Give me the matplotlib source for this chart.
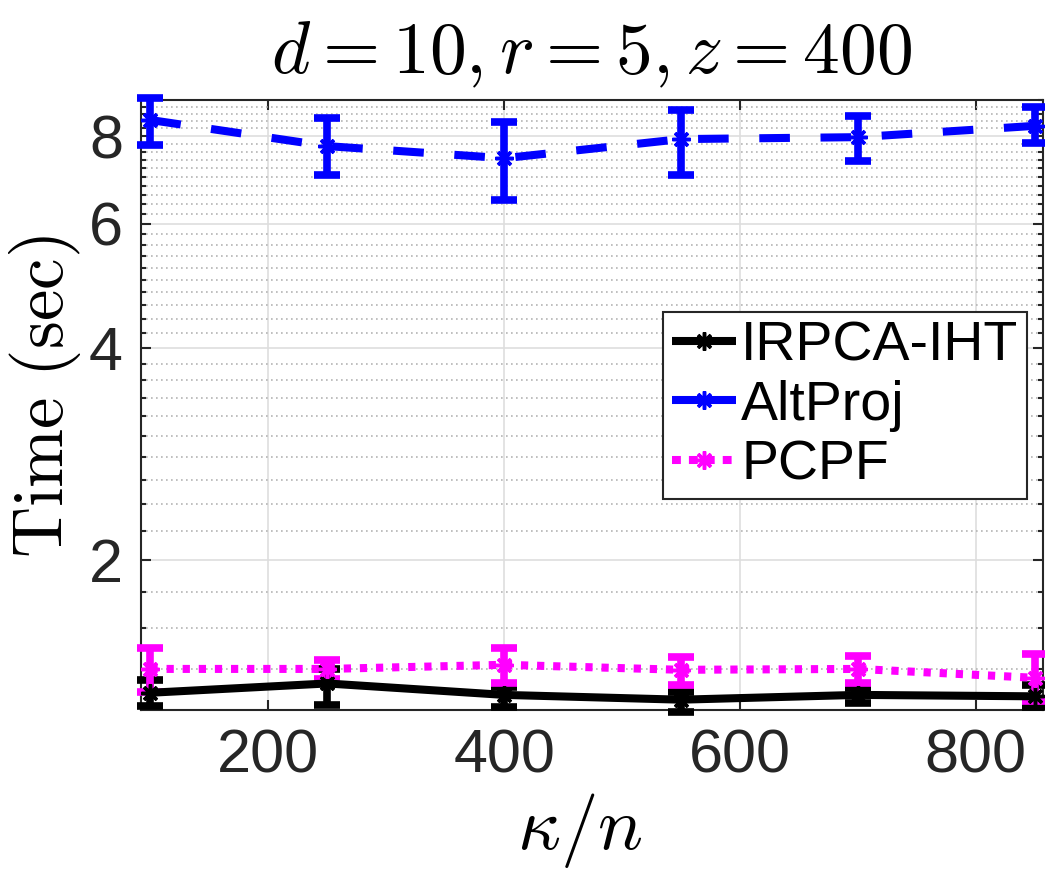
import matplotlib
matplotlib.use("Agg")
import matplotlib.pyplot as plt
from matplotlib.ticker import FixedLocator, NullFormatter, FixedFormatter
from matplotlib.lines import Line2D
import numpy as np

# ---- data ----
x = [100, 250, 400, 550, 700, 850]

irpca_mean = [1.295, 1.335, 1.286, 1.266, 1.286, 1.280]
irpca_lo   = [1.240, 1.245, 1.237, 1.217, 1.253, 1.236]
irpca_hi   = [1.351, 1.400, 1.320, 1.299, 1.316, 1.330]

altproj_mean = [8.43, 7.74, 7.44, 7.92, 7.97, 8.27]
altproj_lo   = [7.77, 7.04, 6.49, 7.04, 7.37, 7.82]
altproj_hi   = [9.06, 8.48, 8.37, 8.71, 8.54, 8.79]

pcpf_mean = [1.400, 1.400, 1.419, 1.396, 1.400, 1.360]
pcpf_lo   = [1.300, 1.356, 1.338, 1.330, 1.335, 1.260]
pcpf_hi   = [1.500, 1.442, 1.500, 1.456, 1.460, 1.470]

labels = ["IRPCA-IHT", "AltProj", "PCPF"]
xticks = [200, 400, 600, 800]
yticks = [2, 4, 6, 8]
title = r"$d = 10, r = 5, z = 400$"
xlabel = r"$\kappa/n$"
ylabel = r"$\mathrm{Time\ (sec)}$"

plt.rcParams['mathtext.fontset'] = 'cm'
plt.rcParams['font.family'] = ['Liberation Sans', 'DejaVu Sans']

fig = plt.figure(figsize=(10.45, 8.76), dpi=100)
ax = fig.add_axes([141/1045, 1-710/876, (1043-141)/1045, (710-100)/876])

series = [
    (irpca_mean, irpca_lo, irpca_hi, 'black', '-', None),
    (altproj_mean, altproj_lo, altproj_hi, '#0000ff', '--', (3.8, 3.8)),
    (pcpf_mean, pcpf_lo, pcpf_hi, '#ff00ff', ':', (0.9, 1.1)),
]
handles = []
for (m, lo, hi, c, ls, dash), lab in zip(series, labels):
    m = np.array(m); lo = np.array(lo); hi = np.array(hi)
    eb = ax.errorbar(x, m, yerr=[m - lo, hi - m], color=c, ecolor=c,
                     elinewidth=5.5, capsize=9.5, capthick=5.5,
                     linestyle='none', clip_on=False, zorder=3)
    for a in eb.lines[1]:
        a.set_clip_on(False)
    for a in eb.lines[2]:
        a.set_clip_on(False)
    line, = ax.plot(x, m, color=c, linestyle=ls, linewidth=5.8,
                    marker=(8, 2, 0), markersize=13, markeredgewidth=2.5,
                    markeredgecolor=c, clip_on=False, zorder=4,
                    solid_capstyle='butt', dash_capstyle='butt')
    if dash is not None:
        line.set_dashes(dash)
    # legend proxy
    h = Line2D([], [], color=c, linewidth=5.8, marker=(8, 2, 0), markersize=13,
               markeredgewidth=2.5, markeredgecolor=c, label=lab,
               solid_capstyle='butt', dash_capstyle='butt')
    if lab == "AltProj":
        h.set_linestyle('-')
    elif lab == "PCPF":
        h.set_dashes((1.1, 1.0))
    handles.append(h)

ax.set_yscale('log')
ax.set_xlim(92, 857)
ax.set_ylim(1.224, 9.0)

ax.xaxis.set_major_locator(FixedLocator(xticks))
ax.xaxis.set_minor_locator(FixedLocator([]))
ax.yaxis.set_major_locator(FixedLocator(yticks))
ax.yaxis.set_major_formatter(FixedFormatter([str(t) for t in yticks]))
minor = [round(v, 1) for v in np.arange(1.4, 9.01, 0.2) if round(v, 1) not in yticks]
ax.yaxis.set_minor_locator(FixedLocator(minor))
ax.yaxis.set_minor_formatter(NullFormatter())

ax.grid(True, which='major', axis='both', color='#dedede', linewidth=1.2, zorder=0)
ax.grid(True, which='minor', axis='y', color='#b4b4b4', linewidth=1.2,
        linestyle=(0, (1, 2)), zorder=0)
ax.set_axisbelow(True)

for s in ax.spines.values():
    s.set_color('#262626')
    s.set_linewidth(1.5)

ax.tick_params(axis='both', which='both', direction='in', top=True, right=True,
               colors='#262626', labelcolor='#262626', labelsize=44)
ax.tick_params(axis='both', which='major', length=7, width=1.5)
ax.tick_params(axis='y', which='minor', length=3.6, width=1.5)
ax.tick_params(axis='x', which='major', pad=13)
ax.tick_params(axis='y', which='major', pad=13)

ax.set_title(title, fontsize=53, pad=20)
ax.set_xlabel(xlabel, fontsize=54, labelpad=4, x=0.487)
ax.set_ylabel(ylabel, fontsize=51, labelpad=4, y=0.513)

leg = ax.legend(handles=handles, loc='upper right', bbox_to_anchor=(0.982, 0.652),
                fontsize=40, frameon=True, fancybox=False, framealpha=1,
                edgecolor='#262626', borderpad=0.15, labelspacing=0.13,
                handlelength=1.15, handletextpad=0.1, borderaxespad=0)
leg.get_frame().set_linewidth(1.5)

fig.savefig('out.png', dpi=100)
